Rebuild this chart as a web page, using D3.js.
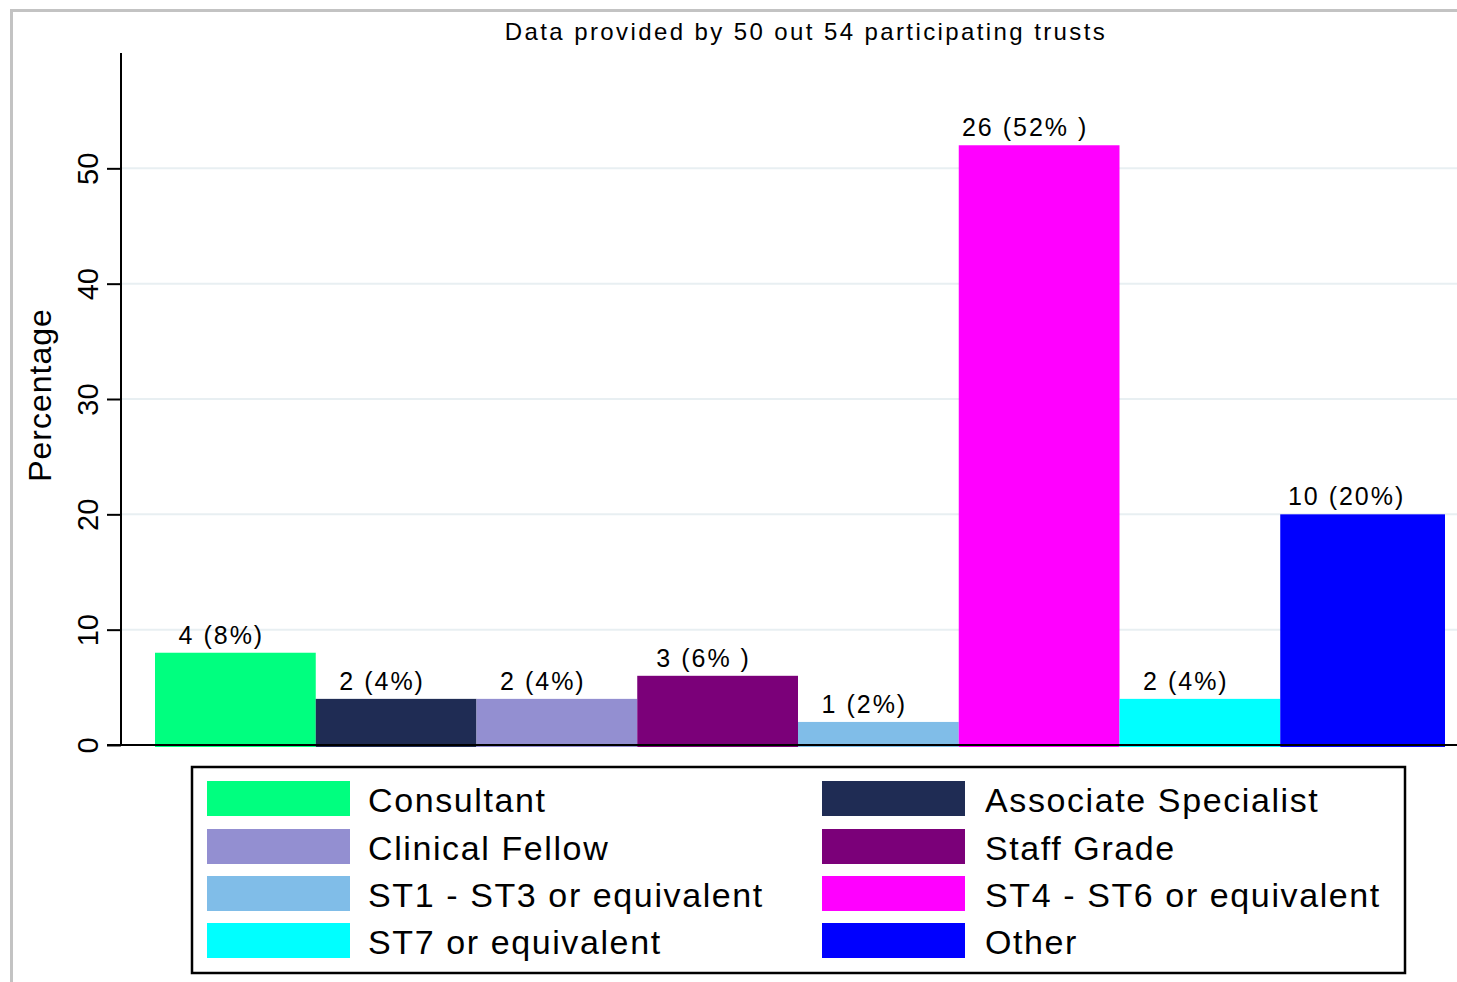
<!DOCTYPE html>
<html>
<head>
<meta charset="utf-8">
<script src="https://cdn.jsdelivr.net/npm/d3@7"></script>
<style>
  body { margin: 0; background: #fff; }
  text { font-family: "Liberation Sans", Arial, sans-serif; fill: #000; }
</style>
</head>
<body>
<div id="chart"></div>
<script>
// Data
const categories = ['Consultant', 'Associate Specialist', 'Clinical Fellow', 'Staff Grade',
  'ST1 - ST3 or equivalent', 'ST4 - ST6 or equivalent', 'ST7 or equivalent', 'Other']
const percents = [8, 4, 4, 6, 2, 52, 4, 20]
const barLabels = ['4 (8%)', '2 (4%)', '2 (4%)', '3 (6% )', '1 (2%)', '26 (52% )', '2 (4%)', '10 (20%)']
const colors = ['#00ff7f', '#1f2c54', '#938fd1', '#7b0079', '#80bde8', '#ff00ff', '#00ffff', '#0000ff']
const yTicks = [0, 10, 20, 30, 40, 50]
const title = 'Data provided by 50 out 54 participating trusts'

const dimensions = { width: 1457, height: 982 }

const svg = d3.select('#chart')
  .append('svg')
  .attr('width', dimensions.width)
  .attr('height', dimensions.height)

// outer frame
svg.append('path')
  .attr('d', 'M11.5,982 V10.5 H1457')
  .attr('fill', 'none')
  .attr('stroke', '#c3c3c3')
  .attr('stroke-width', 3)

// Scales
const xScale = d3.scaleBand()
  .domain(categories)
  .range([155, 1441])
  .padding(0)

const yScale = d3.scaleLinear()
  .domain([0, 60])
  .range([745, 53])

// gridlines
svg.append('g')
  .selectAll('line')
  .data(yTicks.filter(d => d > 0))
  .join('line')
  .attr('x1', 122)
  .attr('x2', 1457)
  .attr('y1', d => yScale(d))
  .attr('y2', d => yScale(d))
  .attr('stroke', '#e8eff2')
  .attr('stroke-width', 2)

// bars
svg.append('g')
  .selectAll('rect')
  .data(percents)
  .join('rect')
  .attr('x', (d, i) => xScale(categories[i]))
  .attr('width', (d, i) => xScale.bandwidth() + (i === categories.length - 1 ? 4 : 0))
  .attr('y', d => yScale(d))
  .attr('height', d => yScale(0) - yScale(d) + 2)
  .attr('fill', (d, i) => colors[i])

// bar labels (sit a little left of the bar centre, as in the original)
svg.append('g')
  .selectAll('text')
  .data(percents)
  .join('text')
  .text((d, i) => barLabels[i])
  .attr('x', (d, i) => xScale(categories[i]) + xScale.bandwidth() / 2 - 14)
  .attr('y', d => yScale(d) - 9)
  .attr('text-anchor', 'middle')
  .style('font-size', '25px')
  .style('letter-spacing', '2px')

// y axis
const yAxis = d3.axisLeft(yScale)
  .tickValues(yTicks)
  .tickSize(14)
  .tickPadding(0)

const yAxisGroup = svg.append('g')
  .attr('transform', 'translate(121, 0)')
  .call(yAxis)

yAxisGroup.select('.domain')
  .attr('d', `M0,${yScale(60)}V${yScale(0)}`)
  .attr('stroke', '#000')
  .attr('stroke-width', 2)

yAxisGroup.selectAll('.tick line')
  .attr('stroke', '#000')
  .attr('stroke-width', 2)

yAxisGroup.selectAll('.tick text')
  .attr('x', null)
  .attr('dy', null)
  .attr('transform', 'translate(-31, 0) rotate(-90)')
  .attr('text-anchor', 'middle')
  .attr('dominant-baseline', 'middle')
  .style('font-family', '"Liberation Sans", Arial, sans-serif')
  .style('font-size', '29px')
  .attr('fill', '#000')

// baseline
svg.append('line')
  .attr('x1', 107)
  .attr('x2', 1457)
  .attr('y1', yScale(0))
  .attr('y2', yScale(0))
  .attr('stroke', '#000')
  .attr('stroke-width', 2)

// y label
svg.append('text')
  .text('Percentage')
  .attr('transform', 'translate(51, 395) rotate(-90)')
  .attr('text-anchor', 'middle')
  .style('font-size', '32px')
  .style('letter-spacing', '1px')

// title
svg.append('text')
  .text(title)
  .attr('x', 806)
  .attr('y', 40)
  .attr('text-anchor', 'middle')
  .style('font-size', '24px')
  .style('letter-spacing', '2.4px')

// legend
const legend = svg.append('g')

legend.append('rect')
  .attr('x', 192)
  .attr('y', 767)
  .attr('width', 1213)
  .attr('height', 206)
  .attr('fill', 'none')
  .attr('stroke', '#000')
  .attr('stroke-width', 2.5)

const legendCols = [207, 822]
const legendRows = [781, 829, 876, 923]

const items = legend.selectAll('g.item')
  .data(categories)
  .join('g')
  .attr('class', 'item')
  .attr('transform', (d, i) => `translate(${legendCols[i % 2]}, ${legendRows[Math.floor(i / 2)]})`)

items.append('rect')
  .attr('width', 143)
  .attr('height', 35)
  .attr('fill', (d, i) => colors[i])

items.append('text')
  .text(d => d)
  .attr('x', (d, i) => i % 2 === 0 ? 161 : 163)
  .attr('y', 31)
  .style('font-size', '34px')
  .style('letter-spacing', '1.6px')
</script>
</body>
</html>
